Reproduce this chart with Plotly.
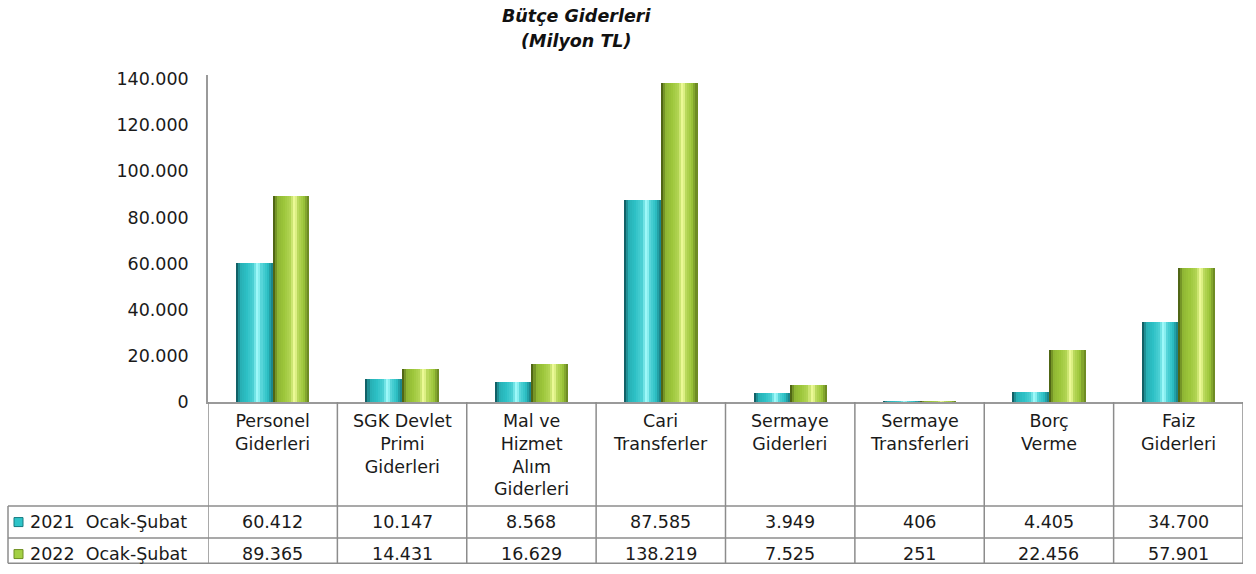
import plotly.graph_objects as go

# ---------------- data ----------------
categories = ["Personel<br>Giderleri", "SGK Devlet<br>Primi<br>Giderleri",
              "Mal ve<br>Hizmet<br>Alım<br>Giderleri", "Cari<br>Transferler",
              "Sermaye<br>Giderleri", "Sermaye<br>Transferleri",
              "Borç<br>Verme", "Faiz<br>Giderleri"]
series_names = ["2021\u00a0\u00a0Ocak-Şubat", "2022\u00a0\u00a0Ocak-Şubat"]
values_2021 = [60412, 10147, 8568, 87585, 3949, 406, 4405, 34700]
values_2022 = [89365, 14431, 16629, 138219, 7525, 251, 22456, 57901]
y_ticks = [0, 20000, 40000, 60000, 80000, 100000, 120000, 140000]
title_lines = ["Bütçe Giderleri", "(Milyon TL)"]

# ---------------- layout helpers ----------------
W, H = 1256, 574
V_OFF, V_SCALE = 6.0, 0.972   # measured vertical mapping of the capture

def px(x):
    return x / W

def py(y):
    yd = (y - V_OFF) / V_SCALE
    yd = min(max(yd, 0.0), H - 0.8)
    return (H - yd) / H

FONT = "DejaVu Sans"
GRID = "#8c8c8c"

def hex2rgb(h):
    h = h.lstrip("#")
    return [int(h[i:i + 2], 16) for i in (0, 2, 4)]

def mix(c1, c2, t):
    a, b = hex2rgb(c1), hex2rgb(c2)
    return "rgb(%d,%d,%d)" % tuple(round(a[i] + (b[i] - a[i]) * t) for i in range(3))

# cylinder shading profile: (position, intensity); negative -> dark, positive -> light
profile = [(0.0, -1.0), (0.12, -0.15), (0.3, 0.0), (0.48, 0.25), (0.6, 1.0),
           (0.7, 0.3), (0.85, 0.0), (1.0, -0.6)]

def intensity(t):
    for (t0, v0), (t1, v1) in zip(profile[:-1], profile[1:]):
        if t0 <= t <= t1:
            return v0 + (v1 - v0) * (t - t0) / (t1 - t0)
    return 0.0

styles = [
    dict(base="#2cc0c5", dark="#0c4a50", light="#aaffff", key="#2ec4c8", keyline="#167a80"),
    dict(base="#9cc63a", dark="#3e4f0c", light="#f4ffa0", key="#a3d044", keyline="#6e8f22"),
]

fig = go.Figure()
N = 18
bar_w = 0.283
offsets = [-bar_w, 0.0]
x_idx = list(range(len(categories)))
for s, vals in enumerate([values_2021, values_2022]):
    st = styles[s]
    for k in range(N):
        t = (k + 0.5) / N
        v = intensity(t)
        col = mix(st["base"], st["light"], v) if v >= 0 else mix(st["base"], st["dark"], -v)
        fig.add_trace(go.Bar(
            x=x_idx, y=vals,
            width=[bar_w / N * 1.08] * len(vals),
            offset=offsets[s] + k * bar_w / N,
            marker=dict(color=col, line=dict(width=0)),
            hoverinfo="skip", showlegend=False,
        ))

TABLE_BOTTOM = 570
shapes = []
# table vertical lines at category boundaries
for i in range(len(categories) + 1):
    shapes.append(dict(type="line", xref="x", yref="paper",
                       x0=i - 0.5, x1=i - 0.5, y0=py(402), y1=py(TABLE_BOTTOM),
                       line=dict(color=GRID, width=1.5)))
# horizontal lines
for yy in [506, 538, TABLE_BOTTOM]:
    shapes.append(dict(type="line", xref="paper", yref="paper",
                       x0=px(8), x1=px(1243), y0=py(yy), y1=py(yy),
                       line=dict(color=GRID, width=1.5)))
shapes.append(dict(type="line", xref="paper", yref="paper",
                   x0=px(8), x1=px(8), y0=py(506), y1=py(TABLE_BOTTOM),
                   line=dict(color=GRID, width=1.5)))

annotations = []
# title
for j, (line, yy) in enumerate(zip(title_lines, [16, 41])):
    annotations.append(dict(xref="paper", yref="paper", x=px(576), y=py(yy),
                            text="<b><i>%s</i></b>" % line, showarrow=False,
                            xanchor="center", yanchor="middle",
                            font=dict(family=FONT, size=17.5, color="#111111")))
# header cells
for i, cat in enumerate(categories):
    annotations.append(dict(xref="x", yref="paper", x=i, y=py(409),
                            text=cat, showarrow=False, xanchor="center", yanchor="top",
                            align="center",
                            font=dict(family=FONT, size=17.5, color="#1a1a1a")))
# value rows
def fmt(v):
    return f"{v:,}".replace(",", ".")

for s, (vals, yy) in enumerate(zip([values_2021, values_2022], [522, 554])):
    st = styles[s]
    for i, v in enumerate(vals):
        annotations.append(dict(xref="x", yref="paper", x=i, y=py(yy),
                                text=fmt(v), showarrow=False,
                                xanchor="center", yanchor="middle",
                                font=dict(family=FONT, size=17.5, color="#1a1a1a")))
    annotations.append(dict(xref="paper", yref="paper", x=px(28), y=py(yy),
                            text=series_names[s], showarrow=False,
                            xanchor="left", yanchor="middle",
                            font=dict(family=FONT, size=17.5, color="#1a1a1a")))
    shapes.append(dict(type="rect", xref="paper", yref="paper",
                       x0=px(14), x1=px(23), y0=py(yy - 4.5), y1=py(yy + 4.5),
                       fillcolor=st["key"], line=dict(color=st["keyline"], width=1)))

# y axis: 0 at y=402, 140.000 at y=79, axis line up to y=75
y_top_val = 140000 * (402 - 75) / (402 - 79)

fig.update_layout(
    width=W, height=H,
    margin=dict(l=0, r=0, t=0, b=0, pad=0),
    paper_bgcolor="white", plot_bgcolor="white",
    barmode="overlay", bargap=0,
    showlegend=False,
    separators=",.",
    xaxis=dict(domain=[px(208), px(1243)], range=[-0.5, len(categories) - 0.5],
               showline=True, linecolor="#9a9a9a", linewidth=1.5,
               showticklabels=False, showgrid=False, zeroline=False, fixedrange=True),
    yaxis=dict(domain=[py(402), py(75)], range=[0, y_top_val],
               showline=True, linecolor="#9a9a9a", linewidth=1.5,
               tickvals=y_ticks, tickformat=",", showgrid=False, zeroline=False,
               ticks="", ticklabelstandoff=14,
               tickfont=dict(family=FONT, size=17.5, color="#1a1a1a"), fixedrange=True),
    shapes=shapes,
    annotations=annotations,
)

html = fig.to_html(full_html=True, include_plotlyjs=True,
                   config={"displayModeBar": False})
html = html.replace(
    "<head>",
    "<head><style>html,body{margin:0;padding:0;overflow:hidden;background:#fff;}</style>",
    1,
)
with open("out.html", "w", encoding="utf-8") as f:
    f.write(html)
